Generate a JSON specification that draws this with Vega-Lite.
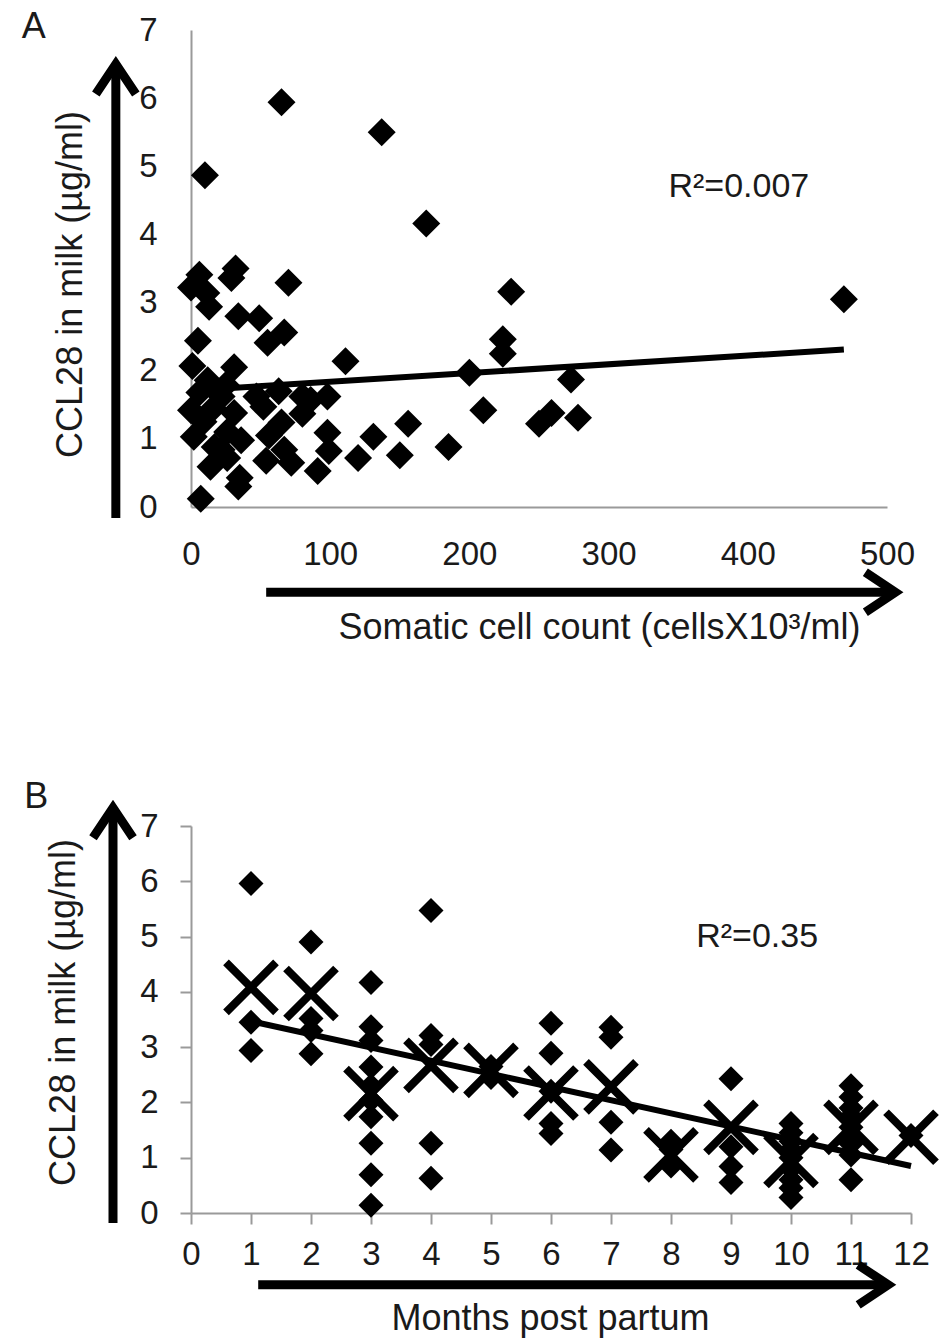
{
  "$schema": "https://vega.github.io/schema/vega-lite/v6.json",
  "background": "white",
  "padding": {"left": 21, "top": 9, "right": 10, "bottom": 5},
  "bounds": "flush",
  "spacing": 319,
  "config": {
    "view": {"stroke": null},
    "font": "Liberation Sans",
    "axis": {
      "grid": false,
      "format": "d",
      "labelFontSize": 33,
      "labelColor": "#1a1a1a",
      "labelFont": "Liberation Sans",
      "titleFont": "Liberation Sans",
      "titleFontSize": 36,
      "titleFontWeight": "normal",
      "titleColor": "#1a1a1a",
      "domainColor": "#9a9a9a",
      "domainWidth": 2,
      "tickColor": "#9a9a9a",
      "tickWidth": 2,
      "labelFlush": false,
      "labelOverlap": false
    }
  },
  "vconcat": [
    {
      "width": 696,
      "height": 477,
      "layer": [
        {
          "data": {"values": [
            {"scc": 65, "ccl28": 5.94}, {"scc": 137, "ccl28": 5.5}, {"scc": 10, "ccl28": 4.87}, {"scc": 169, "ccl28": 4.16},
            {"scc": 469, "ccl28": 3.05}, {"scc": 230, "ccl28": 3.16}, {"scc": 224, "ccl28": 2.46}, {"scc": 224, "ccl28": 2.25},
            {"scc": 200, "ccl28": 1.97}, {"scc": 210, "ccl28": 1.42}, {"scc": 273, "ccl28": 1.87}, {"scc": 259, "ccl28": 1.38},
            {"scc": 250, "ccl28": 1.22}, {"scc": 278, "ccl28": 1.31}, {"scc": 185, "ccl28": 0.88}, {"scc": 156, "ccl28": 1.22},
            {"scc": 150, "ccl28": 0.76}, {"scc": 131, "ccl28": 1.03}, {"scc": 120, "ccl28": 0.72}, {"scc": 111, "ccl28": 2.14},
            {"scc": 6, "ccl28": 3.41}, {"scc": 32, "ccl28": 3.5}, {"scc": 29, "ccl28": 3.36}, {"scc": 70, "ccl28": 3.29},
            {"scc": 0, "ccl28": 3.22}, {"scc": 11, "ccl28": 3.14}, {"scc": 13, "ccl28": 2.94}, {"scc": 34, "ccl28": 2.8},
            {"scc": 49, "ccl28": 2.77}, {"scc": 67, "ccl28": 2.56}, {"scc": 55, "ccl28": 2.41}, {"scc": 5, "ccl28": 2.44},
            {"scc": 1, "ccl28": 2.07}, {"scc": 31, "ccl28": 2.05},
            {"scc": 6, "ccl28": 1.68}, {"scc": 12, "ccl28": 1.86}, {"scc": 25, "ccl28": 1.79}, {"scc": 22, "ccl28": 1.62},
            {"scc": 47, "ccl28": 1.62}, {"scc": 63, "ccl28": 1.7}, {"scc": 80, "ccl28": 1.62}, {"scc": 86, "ccl28": 1.57},
            {"scc": 98, "ccl28": 1.62},
            {"scc": 0, "ccl28": 1.42}, {"scc": 16, "ccl28": 1.45}, {"scc": 31, "ccl28": 1.38}, {"scc": 52, "ccl28": 1.47},
            {"scc": 80, "ccl28": 1.37}, {"scc": 9, "ccl28": 1.25}, {"scc": 65, "ccl28": 1.24},
            {"scc": 2, "ccl28": 1.03}, {"scc": 26, "ccl28": 1.1}, {"scc": 36, "ccl28": 0.98}, {"scc": 56, "ccl28": 1.05},
            {"scc": 98, "ccl28": 1.09},
            {"scc": 22, "ccl28": 0.84}, {"scc": 17, "ccl28": 0.88}, {"scc": 67, "ccl28": 0.84}, {"scc": 99, "ccl28": 0.82},
            {"scc": 14, "ccl28": 0.59}, {"scc": 26, "ccl28": 0.72}, {"scc": 54, "ccl28": 0.68}, {"scc": 72, "ccl28": 0.65},
            {"scc": 91, "ccl28": 0.53},
            {"scc": 35, "ccl28": 0.43}, {"scc": 34, "ccl28": 0.3}, {"scc": 7, "ccl28": 0.12}
          ]},
          "mark": {"type": "point", "shape": "diamond", "filled": true, "color": "#000000", "opacity": 1, "size": 784},
          "encoding": {
            "x": {"field": "scc", "type": "quantitative",
              "scale": {"domain": [0, 500], "nice": false, "zero": false},
              "title": "Somatic cell count (cellsX10³/ml)",
              "axis": {"values": [0, 100, 200, 300, 400, 500], "format": "d", "ticks": false, "tickSize": 0, "labelPadding": 31,
                "titleX": 408, "titleY": 120, "titleBaseline": "middle", "titleAlign": "center"}},
            "y": {"field": "ccl28", "type": "quantitative",
              "scale": {"domain": [0, 7], "nice": false, "zero": false},
              "title": "CCL28 in milk (µg/ml)",
              "axis": {"values": [0, 1, 2, 3, 4, 5, 6, 7], "format": "d", "ticks": false, "tickSize": 0, "labelPadding": 34,
                "titleX": -121, "titleY": 254, "titleBaseline": "middle", "titleAlign": "center", "titleAngle": 270}}
          }
        },
        {
          "data": {"values": [{"scc": 0, "ccl28": 1.71}, {"scc": 469, "ccl28": 2.31}]},
          "mark": {"type": "line", "color": "#000000", "strokeWidth": 6},
          "encoding": {
            "x": {"field": "scc", "type": "quantitative", "title": "Somatic cell count (cellsX10³/ml)"},
            "y": {"field": "ccl28", "type": "quantitative", "title": "CCL28 in milk (µg/ml)"}
          }
        },
        {
          "data": {"values": [{}]},
          "mark": {"type": "text", "text": "R²=0.007", "fontSize": 34, "align": "left", "baseline": "middle", "color": "#1a1a1a"},
          "encoding": {"x": {"datum": 343, "type": "quantitative", "title": "Somatic cell count (cellsX10³/ml)"}, "y": {"datum": 4.7, "type": "quantitative", "title": "CCL28 in milk (µg/ml)"}}
        },
        {
          "data": {"values": [{}]},
          "mark": {"type": "text", "text": "A", "fontSize": 36, "align": "center", "baseline": "middle", "color": "#1a1a1a"},
          "encoding": {"x": {"datum": -113, "type": "quantitative", "title": "Somatic cell count (cellsX10³/ml)"}, "y": {"datum": 7.04, "type": "quantitative", "title": "CCL28 in milk (µg/ml)"}}
        },
        {
          "data": {"values": [{}]},
          "mark": {"type": "rule", "color": "#000000", "strokeWidth": 9, "strokeCap": "butt"},
          "encoding": {"x": {"datum": -54, "type": "quantitative", "title": "Somatic cell count (cellsX10³/ml)"}, "y": {"datum": -0.16, "type": "quantitative", "title": "CCL28 in milk (µg/ml)"}, "y2": {"datum": 6.42}}
        },
        {
          "data": {"values": [{}]},
          "mark": {"type": "point", "shape": "M-1,1.5L0,0L1,1.5", "filled": false, "stroke": "#000000", "strokeWidth": 9, "size": 1600, "opacity": 1, "strokeJoin": "miter"},
          "encoding": {"x": {"datum": -54, "type": "quantitative", "title": "Somatic cell count (cellsX10³/ml)"}, "y": {"datum": 6.5, "type": "quantitative", "title": "CCL28 in milk (µg/ml)"}}
        },
        {
          "data": {"values": [{}]},
          "mark": {"type": "rule", "color": "#000000", "strokeWidth": 9, "strokeCap": "butt"},
          "encoding": {"x": {"datum": 54, "type": "quantitative", "title": "Somatic cell count (cellsX10³/ml)"}, "x2": {"datum": 503}, "y": {"datum": -1.25, "type": "quantitative", "title": "CCL28 in milk (µg/ml)"}}
        },
        {
          "data": {"values": [{}]},
          "mark": {"type": "point", "shape": "M-1.5,-1L0,0L-1.5,1", "filled": false, "stroke": "#000000", "strokeWidth": 9, "size": 1600, "opacity": 1, "strokeJoin": "miter"},
          "encoding": {"x": {"datum": 506, "type": "quantitative", "title": "Somatic cell count (cellsX10³/ml)"}, "y": {"datum": -1.25, "type": "quantitative", "title": "CCL28 in milk (µg/ml)"}}
        }
      ]
    },
    {
      "width": 720,
      "height": 387,
      "layer": [
        {
          "data": {"values": [
            {"month": 1, "ccl28": 5.96}, {"month": 1, "ccl28": 3.45}, {"month": 1, "ccl28": 2.94},
            {"month": 2, "ccl28": 4.9}, {"month": 2, "ccl28": 3.52}, {"month": 2, "ccl28": 3.3}, {"month": 2, "ccl28": 2.88},
            {"month": 3, "ccl28": 4.17}, {"month": 3, "ccl28": 3.37}, {"month": 3, "ccl28": 3.12}, {"month": 3, "ccl28": 2.64},
            {"month": 3, "ccl28": 2.3}, {"month": 3, "ccl28": 2.04}, {"month": 3, "ccl28": 1.74}, {"month": 3, "ccl28": 1.26},
            {"month": 3, "ccl28": 0.69}, {"month": 3, "ccl28": 0.14},
            {"month": 4, "ccl28": 5.47}, {"month": 4, "ccl28": 3.21}, {"month": 4, "ccl28": 3.05}, {"month": 4, "ccl28": 1.26}, {"month": 4, "ccl28": 0.63},
            {"month": 5, "ccl28": 2.65}, {"month": 5, "ccl28": 2.45},
            {"month": 6, "ccl28": 3.43}, {"month": 6, "ccl28": 2.89}, {"month": 6, "ccl28": 2.2}, {"month": 6, "ccl28": 1.62}, {"month": 6, "ccl28": 1.44},
            {"month": 7, "ccl28": 3.36}, {"month": 7, "ccl28": 3.18}, {"month": 7, "ccl28": 1.64}, {"month": 7, "ccl28": 1.14},
            {"month": 8, "ccl28": 1.3}, {"month": 8, "ccl28": 1.15}, {"month": 8, "ccl28": 0.85},
            {"month": 9, "ccl28": 2.43}, {"month": 9, "ccl28": 1.2}, {"month": 9, "ccl28": 0.84}, {"month": 9, "ccl28": 0.55},
            {"month": 10, "ccl28": 1.62}, {"month": 10, "ccl28": 1.45}, {"month": 10, "ccl28": 1.3}, {"month": 10, "ccl28": 1.15},
            {"month": 10, "ccl28": 1.0}, {"month": 10, "ccl28": 0.8}, {"month": 10, "ccl28": 0.6}, {"month": 10, "ccl28": 0.45}, {"month": 10, "ccl28": 0.28},
            {"month": 11, "ccl28": 2.3}, {"month": 11, "ccl28": 2.1}, {"month": 11, "ccl28": 1.9}, {"month": 11, "ccl28": 1.75},
            {"month": 11, "ccl28": 1.55}, {"month": 11, "ccl28": 1.4}, {"month": 11, "ccl28": 1.25}, {"month": 11, "ccl28": 1.05}, {"month": 11, "ccl28": 0.6},
            {"month": 12, "ccl28": 1.4}
          ]},
          "mark": {"type": "point", "shape": "diamond", "filled": true, "color": "#000000", "opacity": 1, "size": 625},
          "encoding": {
            "x": {"field": "month", "type": "quantitative",
              "scale": {"domain": [0, 12], "nice": false, "zero": false},
              "title": "Months post partum",
              "axis": {"values": [0, 1, 2, 3, 4, 5, 6, 7, 8, 9, 10, 11, 12], "format": "d", "ticks": true, "tickSize": 11, "labelPadding": 14,
                "titleX": 359, "titleY": 105, "titleBaseline": "middle", "titleAlign": "center"}},
            "y": {"field": "ccl28", "type": "quantitative",
              "scale": {"domain": [0, 7], "nice": false, "zero": false},
              "title": "CCL28 in milk (µg/ml)",
              "axis": {"values": [0, 1, 2, 3, 4, 5, 6, 7], "format": "d", "ticks": true, "tickSize": 11, "labelPadding": 22,
                "titleX": -128, "titleY": 186, "titleBaseline": "middle", "titleAlign": "center", "titleAngle": 270}}
          }
        },
        {
          "data": {"values": [
            {"month": 1, "mean": 4.08}, {"month": 2, "mean": 3.97}, {"month": 3, "mean": 2.16}, {"month": 4, "mean": 2.67},
            {"month": 5, "mean": 2.58}, {"month": 6, "mean": 2.17}, {"month": 7, "mean": 2.28}, {"month": 8, "mean": 1.05},
            {"month": 9, "mean": 1.55}, {"month": 10, "mean": 0.95}, {"month": 11, "mean": 1.55}, {"month": 12, "mean": 1.37}
          ]},
          "mark": {"type": "point", "shape": "M-1,-1L1,1M-1,1L1,-1", "filled": false, "stroke": "#000000", "strokeWidth": 8, "size": 2500, "opacity": 1},
          "encoding": {
            "x": {"field": "month", "type": "quantitative", "title": "Months post partum"},
            "y": {"field": "mean", "type": "quantitative", "title": "CCL28 in milk (µg/ml)"}
          }
        },
        {
          "data": {"values": [{"month": 1, "fit": 3.47}, {"month": 12, "fit": 0.85}]},
          "mark": {"type": "line", "color": "#000000", "strokeWidth": 6},
          "encoding": {
            "x": {"field": "month", "type": "quantitative", "title": "Months post partum"},
            "y": {"field": "fit", "type": "quantitative", "title": "CCL28 in milk (µg/ml)"}
          }
        },
        {
          "data": {"values": [{}]},
          "mark": {"type": "text", "text": "R²=0.35", "fontSize": 34, "align": "left", "baseline": "middle", "color": "#1a1a1a"},
          "encoding": {"x": {"datum": 8.42, "type": "quantitative", "title": "Months post partum"}, "y": {"datum": 4.99, "type": "quantitative", "title": "CCL28 in milk (µg/ml)"}}
        },
        {
          "data": {"values": [{}]},
          "mark": {"type": "text", "text": "B", "fontSize": 36, "align": "center", "baseline": "middle", "color": "#1a1a1a"},
          "encoding": {"x": {"datum": -2.58, "type": "quantitative", "title": "Months post partum"}, "y": {"datum": 7.52, "type": "quantitative", "title": "CCL28 in milk (µg/ml)"}}
        },
        {
          "data": {"values": [{}]},
          "mark": {"type": "rule", "color": "#000000", "strokeWidth": 9, "strokeCap": "butt"},
          "encoding": {"x": {"datum": -1.3, "type": "quantitative", "title": "Months post partum"}, "y": {"datum": -0.18, "type": "quantitative", "title": "CCL28 in milk (µg/ml)"}, "y2": {"datum": 7.25}}
        },
        {
          "data": {"values": [{}]},
          "mark": {"type": "point", "shape": "M-1,1.5L0,0L1,1.5", "filled": false, "stroke": "#000000", "strokeWidth": 9, "size": 1600, "opacity": 1, "strokeJoin": "miter"},
          "encoding": {"x": {"datum": -1.3, "type": "quantitative", "title": "Months post partum"}, "y": {"datum": 7.33, "type": "quantitative", "title": "CCL28 in milk (µg/ml)"}}
        },
        {
          "data": {"values": [{}]},
          "mark": {"type": "rule", "color": "#000000", "strokeWidth": 9, "strokeCap": "butt"},
          "encoding": {"x": {"datum": 1.12, "type": "quantitative", "title": "Months post partum"}, "x2": {"datum": 11.57}, "y": {"datum": -1.3, "type": "quantitative", "title": "CCL28 in milk (µg/ml)"}}
        },
        {
          "data": {"values": [{}]},
          "mark": {"type": "point", "shape": "M-1.5,-1L0,0L-1.5,1", "filled": false, "stroke": "#000000", "strokeWidth": 9, "size": 1600, "opacity": 1, "strokeJoin": "miter"},
          "encoding": {"x": {"datum": 11.62, "type": "quantitative", "title": "Months post partum"}, "y": {"datum": -1.3, "type": "quantitative", "title": "CCL28 in milk (µg/ml)"}}
        }
      ]
    }
  ]
}
